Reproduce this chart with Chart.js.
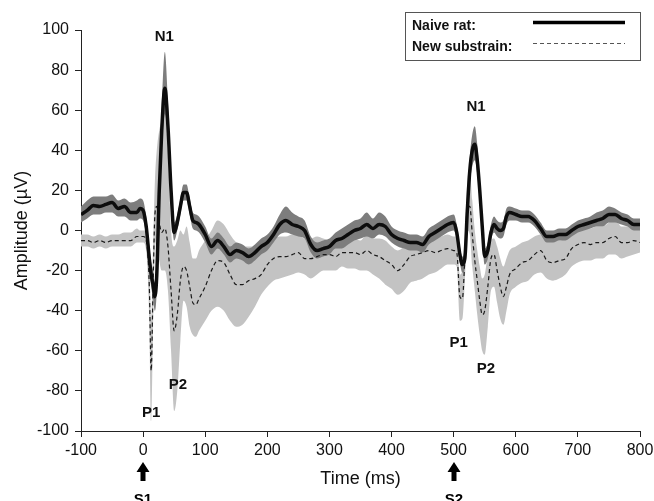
<!DOCTYPE html>
<html>
<head>
<meta charset="utf-8">
<script src="https://cdn.jsdelivr.net/npm/chart.js@4.4.1/dist/chart.umd.min.js"></script>
<style>
  body { margin: 0; background: #fff; }
  #wrap { width: 654px; height: 501px; position: relative; }
</style>
</head>
<body>
<div id="wrap"><canvas id="erpChart"></canvas></div>
<script>
// time points (ms)
const timeMs = [
    -100, -90, -80, -70, -60, -50, -40, -30, -20, -10, -5, 0, 5, 10, 13, 16, 19, 22, 26, 30,
    35, 40, 45, 50, 55, 60, 65, 70, 75, 80, 85, 90, 100, 110, 120, 130, 140, 150, 160, 170,
    180, 190, 200, 210, 220, 230, 240, 250, 260, 270, 280, 290, 300, 310, 320, 330, 340, 350, 360, 370,
    380, 390, 400, 410, 420, 430, 440, 450, 460, 470, 480, 490, 500, 505, 510, 514, 518, 522, 526, 530,
    534, 538, 542, 546, 550, 555, 560, 565, 570, 575, 580, 585, 590, 600, 610, 620, 630, 640, 650, 660,
    670, 680, 690, 700, 710, 720, 730, 740, 750, 760, 770, 780, 790, 800
];

// Naive rat: mean and band
const naiveMean = [
    8, 10, 12.5, 12, 13, 14, 11, 12, 9, 9, 11, 10, 2, -14, -22, -27, -33, -22, 20, 50,
    71, 52, 20, -1, 4, 12, 19, 19, 12, 5, 4, 3, -2, -8, -5, -8, -12, -10, -11, -13,
    -11, -8, -6, -2, 3, 5, 3, 2, 0, -7, -10, -9, -8, -5, -4, -2, 0, 1, 3, 1,
    3, 2, -2, -4, -5, -6, -6, -7, -3, -1, 1, 3, 4, -1, -12, -17, -14, 10, 30, 40,
    43, 35, 20, 2, -13, -10, -1, 3, 1, 0, 1, 7, 9, 8, 7, 7, 5, 1, -3, -3,
    -2, -2, 0, 2, 3, 4, 5, 6, 8, 8, 6, 5, 3, 3
];
const naiveLow = [
    4, 6, 8, 8, 9, 9, 7, 7, 5, 5, 6, 5, -3, -20, -28, -34, -40, -30, 10, 38,
    58, 42, 13, -5, 0, 8, 15, 15, 8, 1, 0, -1, -6, -12, -9, -12, -16, -14, -15, -17,
    -15, -12, -10, -6, -2, -1, -2, -3, -4, -11, -14, -13, -12, -9, -9, -7, -5, -4, -3, -4,
    -2, -3, -6, -8, -9, -10, -10, -11, -7, -5, -3, -1, 0, -5, -16, -21, -19, 4, 23, 32,
    35, 28, 14, -3, -17, -14, -5, -1, -3, -4, -3, 3, 5, 5, 4, 4, 2, -2, -6, -6,
    -5, -5, -3, -1, 0, 1, 2, 2, 4, 4, 3, 2, 0, 0
];
const naiveHigh = [
    12, 15, 17, 17, 17, 18, 15, 16, 14, 15, 16, 15, 7, -8, -16, -20, -26, -14, 30, 62,
    89, 64, 27, 4, 8, 16, 23, 23, 16, 9, 8, 7, 2, -4, -1, -4, -8, -6, -7, -9,
    -7, -4, -2, 2, 8, 12, 9, 7, 5, -3, -6, -5, -4, -1, 1, 3, 5, 6, 9, 6,
    9, 7, 2, 0, -1, -2, -2, -3, 1, 3, 5, 7, 8, 3, -8, -13, -9, 16, 37, 48,
    52, 43, 26, 7, -9, -6, 3, 7, 5, 4, 5, 11, 12, 11, 10, 10, 8, 4, 0, 0,
    1, 1, 3, 5, 6, 7, 9, 10, 12, 11, 9, 8, 6, 6
];

// New substrain: mean and band
const subMean = [
    -5, -5, -6, -5, -6, -5, -5, -5, -5, -3, -3, -3, -5, -28, -70, -28, 8, 12, 4, -1,
    1, -8, -30, -50, -42, -25, -18, -20, -28, -36, -37, -34, -28, -20, -15, -16, -22, -27, -27, -25,
    -24, -22, -17, -14, -13, -13, -12, -11, -14, -14, -13, -12, -12, -13, -11, -11, -11, -12, -10, -12,
    -13, -15, -17, -20, -17, -13, -12, -11, -10, -11, -10, -9, -10, -11, -33, -34, -14, 12, 12, -2,
    -15, -25, -35, -42, -40, -28, -14, -12, -20, -28, -33, -28, -22, -19, -16, -15, -12, -10, -15, -16,
    -15, -14, -9, -7, -6, -7, -6, -6, -4, -3, -6, -6, -5, -6
];
const subLow = [
    -8, -8, -9, -8, -9, -8, -8, -8, -8, -6, -6, -6, -10, -45, -95, -50, -10, -5, -15, -20,
    -20, -30, -60, -90, -80, -55, -35, -38, -48, -52, -53, -50, -45, -40, -38, -40, -45, -48, -47, -43,
    -38, -32, -28, -25, -24, -23, -22, -21, -22, -24, -22, -20, -20, -20, -18, -19, -19, -20, -20, -22,
    -24, -27, -29, -32, -30, -26, -25, -24, -22, -21, -19, -17, -17, -18, -45, -44, -25, 0, -2, -18,
    -30, -42, -52, -60, -62, -48, -30, -28, -36, -44, -47, -40, -32, -28, -26, -25, -22, -21, -24, -25,
    -24, -22, -18, -16, -15, -15, -14, -14, -12, -12, -14, -13, -12, -11
];
const subHigh = [
    -2, -2, -3, -2, -3, -2, -2, -1, -1, 1, 0, 0, 0, -12, -45, -8, 25, 40, 50, 55,
    58, 40, 0, -8, -5, 0, -2, 2, -6, -14, -14, -10, -5, 0, 5, 3, -2, -6, -8, -8,
    -8, -8, -6, -4, -3, -3, -2, -2, -4, -4, -3, -4, -5, -6, -4, -4, -4, -5, -2, -4,
    -4, -5, -8, -10, -8, -5, -5, -4, -4, -4, -3, -2, -3, -3, -22, -20, -2, 25, 30, 15,
    0, -10, -18, -24, -22, -12, -5, -4, -8, -14, -18, -14, -10, -8, -6, -5, -3, -2, -5, -5,
    -5, -4, -1, 1, 2, 1, 2, 2, 4, 6, 2, 2, 2, 1
];

// labels on the peaks
const peakNames = ["N1", "P1", "P2", "N1", "P1", "P2"];
const peakTimes = [34, 13, 56, 536, 508, 552];
const peakAmps = [96.5, -91, -77, 61.5, -56, -69];

// stimulus markers under the x axis
const stimNames = ["S1", "S2"];
const stimTimes = [0, 500];

const FONT = "'Liberation Sans', Arial, sans-serif";

function pts(values) {
    return timeMs.map((t, i) => ({ x: t, y: values[i] }));
}

const bandStyle = {
    pointRadius: 0,
    borderWidth: 0,
    cubicInterpolationMode: "monotone",
};

const overlayPlugin = {
    id: "overlay",
    afterDraw(chart) {
        const { ctx, scales: { x, y } } = chart;
        ctx.save();

        // peak names
        ctx.fillStyle = "#111";
        ctx.font = "bold 15px " + FONT;
        ctx.textAlign = "center";
        ctx.textBaseline = "middle";
        peakNames.forEach((name, i) => {
            ctx.fillText(name, x.getPixelForValue(peakTimes[i]), y.getPixelForValue(peakAmps[i]));
        });

        // stimulus arrows
        stimNames.forEach((name, i) => {
            const px = Math.round(x.getPixelForValue(stimTimes[i]));
            ctx.beginPath();
            ctx.moveTo(px, 462);
            ctx.lineTo(px + 6.5, 472);
            ctx.lineTo(px + 2.5, 472);
            ctx.lineTo(px + 2.5, 481);
            ctx.lineTo(px - 2.5, 481);
            ctx.lineTo(px - 2.5, 472);
            ctx.lineTo(px - 6.5, 472);
            ctx.closePath();
            ctx.fillStyle = "#000";
            ctx.fill();
            ctx.font = "bold 15px " + FONT;
            ctx.textBaseline = "top";
            ctx.fillText(name, px, 492);
        });

        // legend box
        ctx.strokeStyle = "#555";
        ctx.lineWidth = 1;
        ctx.strokeRect(405.5, 12.5, 235, 48);
        ctx.textAlign = "left";
        ctx.textBaseline = "middle";
        ctx.font = "bold 14px " + FONT;
        ctx.fillStyle = "#111";
        ctx.fillText(chart.data.datasets[0].label, 412, 26);
        ctx.fillText(chart.data.datasets[1].label, 412, 47);

        ctx.beginPath();
        ctx.moveTo(533, 22.5);
        ctx.lineTo(625, 22.5);
        ctx.strokeStyle = "#000";
        ctx.lineWidth = 3.5;
        ctx.stroke();

        ctx.beginPath();
        ctx.setLineDash([4, 3]);
        ctx.moveTo(533, 43.5);
        ctx.lineTo(625, 43.5);
        ctx.strokeStyle = "#555";
        ctx.lineWidth = 1;
        ctx.stroke();

        ctx.restore();
    },
};

new Chart(document.getElementById("erpChart"), {
    type: "line",
    data: {
        datasets: [
            {
                label: "Naive rat:",
                data: pts(naiveMean),
                borderColor: "#0d0d0d",
                borderWidth: 3.5,
                pointRadius: 0,
                fill: false,
                cubicInterpolationMode: "monotone",
                order: 0,
            },
            {
                label: "New substrain:",
                data: pts(subMean),
                borderColor: "#1a1a1a",
                borderWidth: 1.2,
                borderDash: [4, 3],
                pointRadius: 0,
                fill: false,
                cubicInterpolationMode: "monotone",
                order: 1,
            },
            {
                label: "naive high",
                data: pts(naiveHigh),
                backgroundColor: "#7d7d7d",
                fill: "+1",
                order: 2,
                ...bandStyle,
            },
            {
                label: "naive low",
                data: pts(naiveLow),
                fill: false,
                order: 2,
                ...bandStyle,
            },
            {
                label: "sub high",
                data: pts(subHigh),
                backgroundColor: "#c3c3c3",
                fill: "+1",
                order: 4,
                ...bandStyle,
            },
            {
                label: "sub low",
                data: pts(subLow),
                fill: false,
                order: 4,
                ...bandStyle,
            },
        ],
    },
    options: {
        responsive: true,
        maintainAspectRatio: false,
        animation: false,
        layout: { padding: { top: 30, right: 14, left: 0, bottom: 0 } },
        plugins: {
            legend: { display: false },
            tooltip: { enabled: false },
        },
        scales: {
            x: {
                type: "linear",
                min: -100,
                max: 800,
                afterFit(scale) {
                    scale.height = 70;
                    scale.paddingRight = 0;
                    scale.paddingLeft = 0;
                },
                ticks: {
                    stepSize: 100,
                    color: "#111",
                    padding: 4,
                    maxRotation: 0,
                    font: { family: FONT, size: 16 },
                },
                grid: {
                    drawOnChartArea: false,
                    color: "#222",
                    tickLength: 6,
                },
                border: { color: "#222", width: 1 },
                title: {
                    display: true,
                    text: "Time (ms)",
                    color: "#111",
                    padding: { top: 0, bottom: 11 },
                    font: { family: FONT, size: 18 },
                },
            },
            y: {
                min: -100,
                max: 100,
                afterFit(scale) {
                    scale.width = 81;
                },
                ticks: {
                    stepSize: 20,
                    color: "#111",
                    padding: 6,
                    font: { family: FONT, size: 16 },
                },
                grid: {
                    drawOnChartArea: false,
                    color: "#222",
                    tickLength: 6,
                },
                border: { color: "#222", width: 1 },
                title: {
                    display: true,
                    text: "Amplitude (µV)",
                    color: "#111",
                    padding: { top: 11, bottom: 0 },
                    font: { family: FONT, size: 18 },
                },
            },
        },
    },
    plugins: [overlayPlugin],
});
</script>
</body>
</html>
